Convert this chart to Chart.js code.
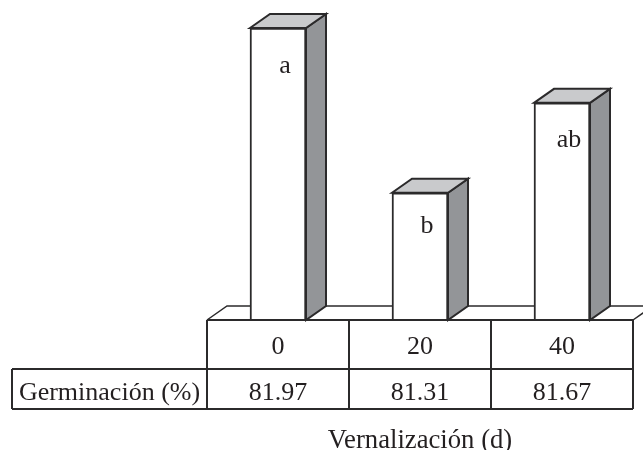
<!DOCTYPE html>
<html>
<head>
<meta charset="utf-8">
<title>Germinación</title>
<script src="https://cdn.jsdelivr.net/npm/chart.js@4"></script>
<style>
  html, body { margin: 0; padding: 0; background: #fff; }
  canvas { display: block; }
</style>
</head>
<body>
<canvas id="grafico" width="643" height="450"></canvas>
<script>
// Datos
const dias = ['0', '20', '40'];
const germinacion = [81.97, 81.31, 81.67];
const letras = ['a', 'b', 'ab'];
const etiquetaFila = 'Germinación (%)';
const tituloX = 'Vernalización (d)';
const baseY = 80.8;

const colores = {
    linea: '#2b2a2b',
    texto: '#231f20',
    lado: '#939598',
    tapa: '#c9cacc'
};
const fuente = '"Liberation Serif", "Times New Roman", serif';
const tamFuente = 26;
const fondoX = 20, fondoY = 14;   // desplazamiento de la perspectiva
const filaAlto1 = 49, filaAlto2 = 40, filaIzq = 12;
const ajusteLetra = [38, 33, 37];  // bajada de cada letra desde el tope de su barra

function poligono(ctx, puntos, relleno) {
    ctx.beginPath();
    puntos.forEach((p, i) => i ? ctx.lineTo(p[0], p[1]) : ctx.moveTo(p[0], p[1]));
    ctx.closePath();
    if (relleno) {
        ctx.fillStyle = relleno;
        ctx.fill();
    }
    ctx.stroke();
}

// Piso detrás de las barras
const piso = {
    id: 'piso',
    beforeDatasetsDraw(chart) {
        const { ctx, chartArea: a } = chart;
        ctx.save();
        ctx.strokeStyle = colores.linea;
        ctx.lineWidth = 1.5;
        ctx.beginPath();
        ctx.moveTo(a.left, a.bottom);
        ctx.lineTo(a.left + fondoX, a.bottom - fondoY);
        ctx.lineTo(a.right + fondoX, a.bottom - fondoY);
        ctx.moveTo(a.right, a.bottom);
        ctx.lineTo(a.right + fondoX, a.bottom - fondoY);
        ctx.stroke();
        ctx.restore();
    }
};

// Caras 3D, letras de significancia y tabla de datos
const caras = {
    id: 'caras',
    afterDatasetsDraw(chart) {
        const { ctx, chartArea: a, scales } = chart;
        const barras = chart.getDatasetMeta(0).data;
        ctx.save();
        ctx.strokeStyle = colores.linea;
        ctx.lineWidth = 2;
        ctx.lineJoin = 'miter';
        barras.forEach((b, i) => {
            const izq = b.x - b.width / 2, der = b.x + b.width / 2;
            poligono(ctx, [[der, b.y], [der + fondoX, b.y - fondoY], [der + fondoX, b.base - fondoY], [der, b.base]], colores.lado);
            poligono(ctx, [[izq, b.y], [izq + fondoX, b.y - fondoY], [der + fondoX, b.y - fondoY], [der, b.y]], colores.tapa);
            ctx.fillStyle = colores.texto;
            ctx.font = tamFuente + 'px ' + fuente;
            ctx.textAlign = 'center';
            ctx.textBaseline = 'middle';
            ctx.fillText(letras[i], b.x + 7, b.y + ajusteLetra[i]);
        });

        // tabla
        const y0 = a.bottom, y1 = y0 + filaAlto1, y2 = y1 + filaAlto2;
        ctx.strokeStyle = colores.linea;
        ctx.lineWidth = 2;
        ctx.beginPath();
        ctx.moveTo(a.left, y0); ctx.lineTo(a.right, y0);
        ctx.moveTo(filaIzq, y1); ctx.lineTo(a.right, y1);
        ctx.moveTo(filaIzq, y2); ctx.lineTo(a.right, y2);
        ctx.moveTo(filaIzq, y1); ctx.lineTo(filaIzq, y2);
        ctx.moveTo(a.left, y0); ctx.lineTo(a.left, y2);
        dias.forEach((d, i) => {
            const borde = scales.x.getPixelForValue(i) + (a.right - a.left) / dias.length / 2;
            ctx.moveTo(borde, y0); ctx.lineTo(borde, y2);
        });
        ctx.stroke();

        ctx.fillStyle = colores.texto;
        ctx.font = tamFuente + 'px ' + fuente;
        ctx.textBaseline = 'middle';
        ctx.textAlign = 'center';
        germinacion.forEach((v, i) => {
            ctx.fillText(v.toFixed(2), scales.x.getPixelForValue(i), y1 + filaAlto2 / 2 + 4);
        });
        ctx.fillText(etiquetaFila, (filaIzq + a.left) / 2, y1 + filaAlto2 / 2 + 4);
        ctx.restore();
    }
};

new Chart(document.getElementById('grafico').getContext('2d'), {
    type: 'bar',
    data: {
        labels: dias,
        datasets: [{
            data: germinacion,
            base: baseY,
            backgroundColor: '#fff',
            borderColor: colores.linea,
            borderWidth: 2,
            barThickness: 56
        }]
    },
    options: {
        responsive: false,
        animation: false,
        layout: { padding: { left: 207, right: 10, top: 28, bottom: 0 } },
        plugins: { legend: { display: false }, tooltip: { enabled: false } },
        scales: {
            y: { display: false, min: baseY, max: 81.97 },
            x: {
                afterFit: escala => { escala.height = 130; },
                grid: { display: false, drawTicks: false },
                border: { display: false },
                ticks: {
                    padding: 12,
                    color: colores.texto,
                    maxRotation: 0,
                    font: { family: fuente, size: tamFuente }
                },
                title: {
                    display: true,
                    text: tituloX,
                    color: colores.texto,
                    padding: { top: 0, bottom: -7 },
                    font: { family: fuente, size: 26.7 }
                }
            }
        }
    },
    plugins: [piso, caras]
});
</script>
</body>
</html>
